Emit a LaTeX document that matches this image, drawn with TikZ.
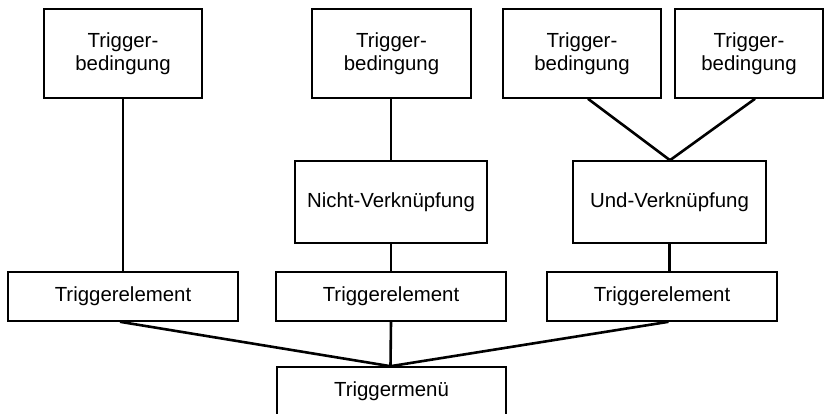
\documentclass[tikz,border=0pt]{standalone}
\usepackage{fontspec}
\setmainfont{Liberation Sans}
\usetikzlibrary{calc}
\begin{document}
\begin{tikzpicture}[x=1pt,y=-1pt,
  box/.style={draw=black,line width=1.6pt,fill=white,inner sep=0pt,align=center,
    font=\fontsize{20.4}{23.5}\selectfont},
  link/.style={draw=black,line width=2.6pt}]
  \useasboundingbox (0,0) rectangle (826,414);
  \begin{scope}
  \clip (0,0) rectangle (826,414);
  % trigger conditions
  \node[box,minimum width=158pt,minimum height=89pt] (b1) at (123,53.5) {Trigger-\\bedingung};
  \node[box,minimum width=159pt,minimum height=89pt] (b2) at (391.5,53.5) {Trigger-\\bedingung};
  \node[box,minimum width=158pt,minimum height=89pt] (b3) at (582,53.5) {Trigger-\\bedingung};
  \node[box,minimum width=148pt,minimum height=89pt] (b4) at (749,53.5) {Trigger-\\bedingung};
  % logic operations
  \node[box,minimum width=192pt,minimum height=82pt] (nicht) at (391,202) {Nicht-Verknüpfung};
  \node[box,minimum width=193pt,minimum height=82pt] (und) at (669.5,202) {Und-Verknüpfung};
  % trigger elements
  \node[box,minimum width=230pt,minimum height=49pt] (e1) at (123,296.5) {Triggerelement};
  \node[box,minimum width=230pt,minimum height=49pt] (e2) at (391,296.5) {Triggerelement};
  \node[box,minimum width=230pt,minimum height=49pt] (e3) at (662,296.5) {Triggerelement};
  % menu
  \node[box,minimum width=229pt,minimum height=49pt] (menu) at (391.5,391.5) {Triggermenü};
  % connections
  \draw[link] (b1.south) -- (e1.north);
  \draw[link] ([xshift=-0.5pt]b2.south) -- (nicht.north);
  \draw[link] (nicht.south) -- (e2.north);
  \draw[link] ([xshift=6pt]b3.south) -- ([xshift=0.5pt]und.north);
  \draw[link] ([xshift=6pt]b4.south) -- ([xshift=0.5pt]und.north);
  \draw[link] (und.south) -- ([xshift=7.5pt]e3.north);
  \draw[link] ([xshift=-3pt]e1.south) -- ([xshift=-1pt]menu.north);
  \draw[link] (e2.south) -- ([xshift=-1pt]menu.north);
  \draw[link] ([xshift=6.5pt]e3.south) -- ([xshift=-1pt]menu.north);
  \end{scope}
\end{tikzpicture}
\end{document}
